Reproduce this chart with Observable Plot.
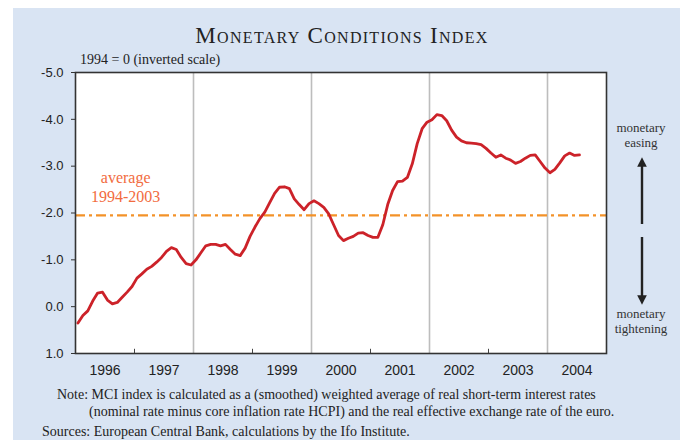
<!DOCTYPE html>
<html>
<head>
<meta charset="utf-8">
<script src="https://cdn.jsdelivr.net/npm/d3@7"></script>
<script src="https://cdn.jsdelivr.net/npm/@observablehq/plot@0.6"></script>
<style>
  html, body { margin: 0; padding: 0; background: #ffffff; }
  #page { position: relative; width: 680px; height: 440px; overflow: hidden; }
  #panel { position: absolute; left: 13px; top: 8px; right: 0; bottom: 0; background: #d9e4f3; }
  .serif { font-family: "Liberation Serif", "Times New Roman", serif; color: #222; }
  #title { position: absolute; left: 0; width: 680px; top: 22px; text-align: center; font-size: 23px; letter-spacing: 1.3px; font-variant: small-caps; line-height: 27px; white-space: nowrap; padding-left: 4px; box-sizing: border-box; }
  #subtitle { position: absolute; left: 80px; top: 51px; font-size: 14px; line-height: 17px; white-space: nowrap; }
  #chart { position: absolute; left: 0; top: 0; }
  .side { position: absolute; left: 601px; width: 80px; text-align: center; font-size: 13px; line-height: 15px; color: #333; }
  #arrows { position: absolute; left: 0; top: 0; }
  .note { position: absolute; font-size: 14px; line-height: 17px; white-space: nowrap; }
</style>
</head>
<body>
<div id="page">
  <div id="panel"></div>
  <div id="title" class="serif">Monetary Conditions Index</div>
  <div id="subtitle" class="serif">1994 = 0 (inverted scale)</div>
  <div id="chart"></div>
  <div class="side serif" style="top:120px">monetary<br>easing</div>
  <div class="side serif" style="top:306px">monetary<br>tightening</div>
  <svg id="arrows" width="680" height="440">
    <defs>
      <marker id="ah" viewBox="0 0 10 10" refX="5" refY="5" markerWidth="4" markerHeight="5" orient="auto-start-reverse">
        <path d="M0,0 L10,5 L0,10 z" fill="#222"></path>
      </marker>
    </defs>
    <line x1="642" y1="224" x2="642" y2="162" stroke="#222" stroke-width="2.4" marker-end="url(#ah)"></line>
    <line x1="642" y1="237" x2="642" y2="300" stroke="#222" stroke-width="2.4" marker-end="url(#ah)"></line>
  </svg>
  <div class="note serif" style="left:57px; top:386px">Note: MCI index is calculated as a (smoothed) weighted average of real short-term interest rates</div>
  <div class="note serif" style="left:89px; top:403px">(nominal rate minus core inflation rate HCPI) and the real effective exchange rate of the euro.</div>
  <div class="note serif" style="left:42px; top:423px">Sources: European Central Bank, calculations by the Ifo Institute.</div>
</div>
<script>
// Monthly MCI values, Jan 1996 – Jul 2004 (1994 = 0; negative = easing)
const startYear = 1996;
const mci = [
  0.35, 0.19, 0.09, -0.12, -0.29, -0.31, -0.14, -0.06, -0.09, -0.20, -0.31, -0.43,
  -0.61, -0.70, -0.80, -0.86, -0.95, -1.05, -1.18, -1.26, -1.22, -1.05, -0.92, -0.89,
  -1.00, -1.15, -1.30, -1.33, -1.33, -1.30, -1.33, -1.22, -1.12, -1.09, -1.25, -1.50,
  -1.70, -1.88, -2.02, -2.22, -2.42, -2.55, -2.56, -2.52, -2.30, -2.18, -2.07, -2.20,
  -2.26, -2.20, -2.12, -1.98, -1.75, -1.52, -1.41, -1.46, -1.50, -1.57, -1.58, -1.52,
  -1.48, -1.48, -1.75, -2.18, -2.48, -2.67, -2.68, -2.76, -3.05, -3.48, -3.80, -3.94,
  -3.99, -4.10, -4.08, -3.97, -3.77, -3.62, -3.54, -3.50, -3.49, -3.48, -3.46, -3.38,
  -3.28, -3.19, -3.24, -3.17, -3.13, -3.06, -3.10, -3.17, -3.23, -3.24, -3.10, -2.96,
  -2.86, -2.93, -3.07, -3.22, -3.28, -3.23, -3.24
];
const average = -1.95;               // average 1994-2003
const averageLabel = "average\n1994-2003";
const yearLabels = [1996, 1997, 1998, 1999, 2000, 2001, 2002, 2003, 2004];
const gridYears = [1998, 2000, 2002, 2004];
const tickYears = [1997, 1999, 2001, 2003];
const yTicks = [-5, -4, -3, -2, -1, 0, 1];

const data = mci.map((v, i) => ({t: startYear + (i + 0.5) / 12, v}));

const chart = Plot.plot({
  width: 680,
  height: 390,
  marginTop: 72,
  marginBottom: 37,
  marginLeft: 75,
  marginRight: 74,
  style: {background: "transparent", fontFamily: "'Liberation Sans', Arial, sans-serif", fontSize: "13px", color: "#222", overflow: "visible"},
  x: {type: "linear", domain: [1996, 2005]},
  y: {domain: [1, -5]},
  marks: [
    Plot.frame({fill: "white", stroke: "none"}),
    Plot.ruleX(gridYears, {stroke: "#bdbdbd", strokeWidth: 1.6}),
    Plot.ruleX(tickYears, {y1: 1, y2: 0.91, stroke: "#444", strokeWidth: 1}),
    Plot.ruleY([average], {stroke: "#f39229", strokeWidth: 2.3, strokeDasharray: "10,4,3,4"}),
    Plot.text([averageLabel], {x: 1996.85, y: -2.56, text: d => d, fill: "#f26b3e", fontSize: 16, fontFamily: "'Liberation Serif', 'Times New Roman', serif", lineHeight: 1.15}),
    Plot.line(data, {x: "t", y: "v", stroke: "#cc2229", strokeWidth: 2.8, strokeLinejoin: "round", strokeLinecap: "round"}),
    Plot.frame({stroke: "#333", strokeWidth: 1.6}),
    Plot.axisY({ticks: yTicks, tickFormat: d => d.toFixed(1), tickSize: 4, tickPadding: 8, label: null, fontSize: 13, stroke: "#333"}),
    Plot.axisX(yearLabels.map(y => y + 0.5), {tickFormat: d => String(Math.floor(d)), tickSize: 0, tickPadding: 12, label: null, fontSize: 14})
  ]
});
document.getElementById("chart").appendChild(chart);
</script>
</body>
</html>
